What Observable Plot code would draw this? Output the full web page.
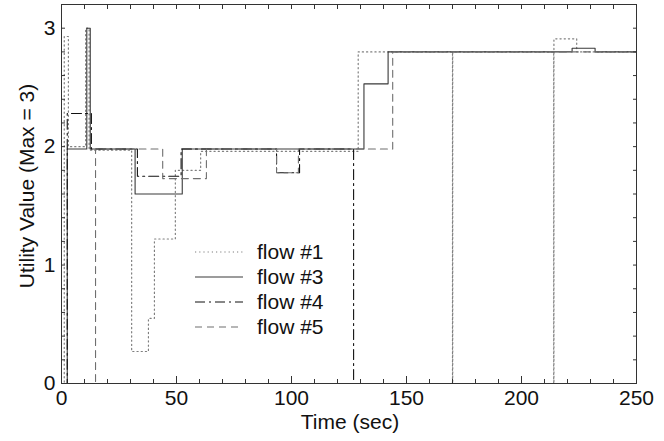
<!DOCTYPE html>
<html>
<head>
<meta charset="utf-8">
<script src="https://cdn.jsdelivr.net/npm/d3@7"></script>
<script src="https://cdn.jsdelivr.net/npm/@observablehq/plot@0.6"></script>
<style>
  html, body { margin: 0; padding: 0; background: #fff; }
  #wrap { position: relative; width: 664px; height: 441px; font-family: "Liberation Sans", Arial, sans-serif; }
  #legend { position: absolute; left: 0; top: 0; pointer-events: none; }
</style>
</head>
<body>
<div id="wrap"></div>
<script>
// ---- data ----
const flowNames = ["flow #1", "flow #3", "flow #4", "flow #5"];

const flow1T = [0, 1.2, 3, 10.5, 12, 30.5, 37.8, 40.4, 49.5, 60.5, 129, 170, 170.1, 214, 214.1, 224, 250];
const flow1V = [0, 2.93, 2.0, 3.0, 1.97, 0.27, 0.55, 1.22, 1.8, 1.96, 2.8, 0, 2.8, 0, 2.91, 2.8, 2.8];

const flow3T = [0, 2.5, 11, 12.5, 32, 52.5, 131.5, 142, 222, 232, 250];
const flow3V = [0, 1.98, 3.0, 1.98, 1.6, 1.98, 2.53, 2.8, 2.83, 2.8, 2.8];

const flow4T = [0, 2.5, 13, 33, 52, 93.5, 103.5, 127, 250];
const flow4V = [0, 2.28, 1.98, 1.75, 1.98, 1.78, 1.98, 0, 0];

const flow5T = [0, 14.8, 44, 63, 93.5, 103, 144, 250];
const flow5V = [0, 1.98, 1.73, 1.98, 1.78, 1.98, 2.8, 2.8];

const xMajorTicks = [0, 50, 100, 150, 200, 250];
const yMajorTicks = [0, 1, 2, 3];

// ---- styles ----
const styles = {
  "flow #1": {stroke: "#7f7f7f", dash: "1.2,3", width: 1.2},
  "flow #3": {stroke: "#3a3a3a", dash: null, width: 1.1},
  "flow #4": {stroke: "#111111", dash: "10,4,2,4", width: 1.1},
  "flow #5": {stroke: "#6f6f6f", dash: "7,5", width: 1.1}
};

const series = {
  "flow #1": flow1T.map((t, i) => ({t, v: flow1V[i]})),
  "flow #3": flow3T.map((t, i) => ({t, v: flow3V[i]})),
  "flow #4": flow4T.map((t, i) => ({t, v: flow4V[i]})),
  "flow #5": flow5T.map((t, i) => ({t, v: flow5V[i]}))
};

const xMinor = d3.range(0, 251, 10);
const yMinor = d3.range(0, 3.21, 0.2).map(d => +d.toFixed(2));

const lineMarks = flowNames.map(n => Plot.line(series[n], {
  x: "t", y: "v", curve: "step-after",
  stroke: styles[n].stroke,
  strokeWidth: styles[n].width,
  strokeDasharray: styles[n].dash || undefined
}));

const FS = 21;

const chart = Plot.plot({
  width: 664,
  height: 441,
  marginLeft: 61,
  marginRight: 28,
  marginTop: 4,
  marginBottom: 58,
  x: {domain: [0, 250]},
  y: {domain: [0, 3.2]},
  style: {fontFamily: "'Liberation Sans', Arial, sans-serif", fontSize: FS + "px", color: "#111", background: "#fff"},
  marks: [
    ...lineMarks,
    Plot.frame({stroke: "#333", strokeWidth: 1}),
    Plot.axisX(xMinor, {anchor: "bottom", tickSize: -4, text: null, label: null, stroke: "#333"}),
    Plot.axisX(xMinor, {anchor: "top", tickSize: -4, text: null, label: null, stroke: "#333"}),
    Plot.axisX(xMajorTicks, {anchor: "bottom", tickSize: -7, text: null, label: null, stroke: "#333"}),
    Plot.axisX(xMajorTicks, {anchor: "bottom", tickSize: 0, tickPadding: 7, label: null, fontSize: FS, tickFormat: d => String(d)}),
    Plot.axisY(yMinor, {anchor: "left", tickSize: -4, text: null, label: null, stroke: "#333"}),
    Plot.axisY(yMinor, {anchor: "right", tickSize: -4, text: null, label: null, stroke: "#333"}),
    Plot.axisY(yMajorTicks, {anchor: "left", tickSize: 0, tickPadding: 6, label: null, fontSize: FS, tickFormat: d => String(d)}),
    Plot.text(["Time (sec)"], {frameAnchor: "bottom", dy: 31, dx: 1, fontSize: FS, fill: "#111", lineAnchor: "top"}),
    Plot.text(["Utility Value (Max = 3)"], {frameAnchor: "left", textAnchor: "middle", dx: -34, dy: -8, rotate: -90, fontSize: FS, fill: "#111"})
  ]
});

const wrap = document.getElementById("wrap");
wrap.appendChild(chart);

// ---- legend overlay ----
const ns = "http://www.w3.org/2000/svg";
const leg = document.createElementNS(ns, "svg");
leg.setAttribute("id", "legend");
leg.setAttribute("width", 664);
leg.setAttribute("height", 441);
flowNames.forEach((n, i) => {
  const y = 252 + i * 25;
  const ln = document.createElementNS(ns, "line");
  ln.setAttribute("x1", 195); ln.setAttribute("x2", 243);
  ln.setAttribute("y1", y); ln.setAttribute("y2", y);
  ln.setAttribute("stroke", styles[n].stroke);
  ln.setAttribute("stroke-width", styles[n].width);
  if (styles[n].dash) ln.setAttribute("stroke-dasharray", styles[n].dash);
  leg.appendChild(ln);
  const tx = document.createElementNS(ns, "text");
  tx.setAttribute("x", 257); tx.setAttribute("y", y);
  tx.setAttribute("dy", "0.35em");
  tx.setAttribute("font-size", FS);
  tx.setAttribute("font-family", "'Liberation Sans', Arial, sans-serif");
  tx.setAttribute("fill", "#111");
  tx.textContent = n;
  leg.appendChild(tx);
});
wrap.appendChild(leg);
</script>
</body>
</html>
